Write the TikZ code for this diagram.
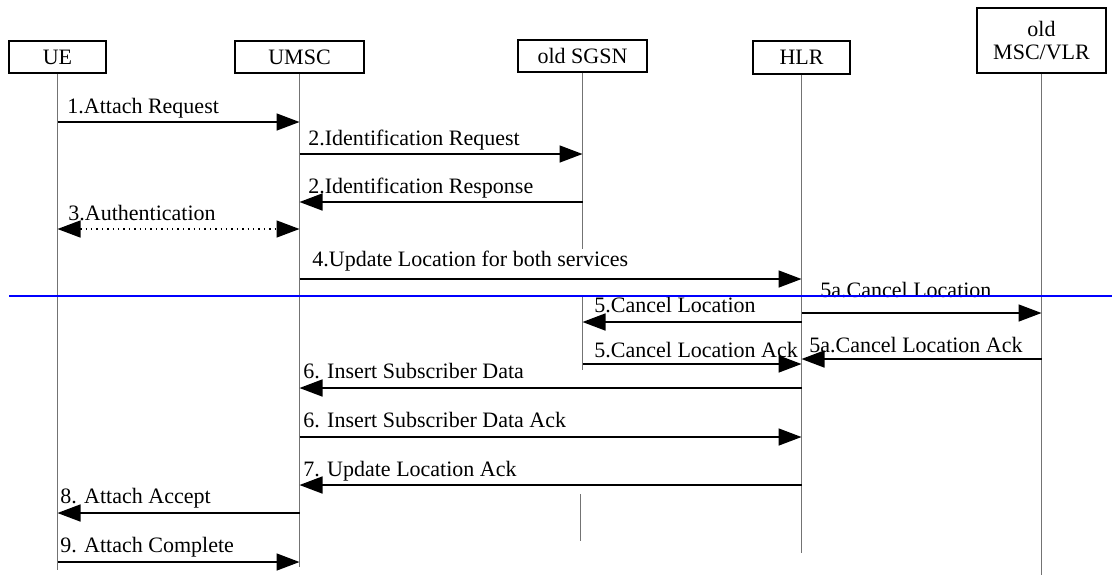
\documentclass[tikz,border=0pt]{standalone}
\usepackage{fontspec}
\setmainfont{Liberation Serif}
\usepackage{tikz}
\usetikzlibrary{arrows.meta,positioning}
\tikzset{
  entity/.style={draw, fill=white, line width=0.7pt, minimum height=16pt, inner sep=1pt, align=center, font=\fontsize{11}{11.5}\selectfont},
  lifeline/.style={draw=black!55, line width=0.5pt},
  msg/.style={line width=0.8pt, -{Triangle[length=11.5pt,width=8.5pt]}},
  bimsg/.style={line width=0.7pt, dotted, {Triangle[length=11.5pt,width=8.5pt]}-{Triangle[length=11.5pt,width=8.5pt]}},
  lbl/.style={anchor=base west, inner sep=0pt, font=\fontsize{11}{12}\selectfont},
  sepline/.style={draw=blue, line width=0.8pt}
}
\begin{document}
\begin{tikzpicture}[x=0.5pt,y=-0.5pt]
  \useasboundingbox (0,0) rectangle (1112,575);
  % entities
  \node[entity, minimum width=48.5pt] (ue) at (57.5,57) {UE};
  \node[entity, minimum width=64.5pt] (umsc) at (299.5,57) {UMSC};
  \node[entity, minimum width=64.5pt] (sgsn) at (582.5,56) {old SGSN};
  \node[entity, minimum width=48.5pt, minimum height=16.5pt] (hlr) at (801.5,57.5) {HLR};
  \node[entity, minimum width=64.5pt, minimum height=32.5pt] (vlr) at (1041.5,40.5) {old\\MSC/VLR};
  % lifelines
  \coordinate (ueEnd) at (57.5,570);
  \coordinate (umscEnd) at (299.5,567);
  \coordinate (hlrEnd) at (801.5,553);
  \coordinate (vlrEnd) at (1041.5,575);
  \coordinate (sgsnA) at (582.5,249);
  \coordinate (sgsnB) at (582.5,297);
  \coordinate (sgsnC) at (582.5,370);
  \coordinate (sgsnD) at (580,494);
  \coordinate (sgsnE) at (580,541);
  \draw[lifeline] (ue) -- (ueEnd);
  \draw[lifeline] (umsc) -- (umscEnd);
  \draw[lifeline] (hlr) -- (hlrEnd);
  \draw[lifeline] (vlr) -- (vlrEnd);
  \draw[lifeline] (sgsn) -- (sgsnA);
  \draw[lifeline] (sgsnB) -- (sgsnC);
  \draw[lifeline] (sgsnD) -- (sgsnE);
  % message rows
  \foreach \n/\y in {1/122,2/154,3/202,4/229,5/279,6/313,7/322,8/359,9/364,10/388,11/437,12/485,13/513,14/562}
    \coordinate (r\n) at (0,\y);
  % messages
  \draw[msg] (ue |- r1) -- (umsc |- r1);
  \draw[msg] (umsc |- r2) -- (sgsn |- r2);
  \draw[msg] (sgsn |- r3) -- (umsc |- r3);
  \draw[bimsg] (ue |- r4) -- (umsc |- r4);
  \draw[msg] (umsc |- r5) -- (hlr |- r5);
  \draw[msg] (hlr |- r6) -- (vlr |- r6);
  \draw[msg] (hlr |- r7) -- (sgsn |- r7);
  \draw[msg] (vlr |- r8) -- (hlr |- r8);
  \draw[msg] (sgsn |- r9) -- (hlr |- r9);
  \draw[msg] (hlr |- r10) -- (umsc |- r10);
  \draw[msg] (umsc |- r11) -- (hlr |- r11);
  \draw[msg] (hlr |- r12) -- (umsc |- r12);
  \draw[msg] (umsc |- r13) -- (ue |- r13);
  \draw[msg] (ue |- r14) -- (umsc |- r14);
  % labels
  \node[lbl] (l1) at (67,113) {1.Attach Request};
  \node[lbl] (l2) at (308,145) {2.Identification Request};
  \node[lbl] (l3) at (308,193) {2.Identification Response};
  \node[lbl] (l4) at (68,220) {3.Authentication};
  \node[lbl] (l5) at (312,266) {4.Update Location for both services};
  \node[lbl] (l6) at (820,297) {5a.Cancel Location};
  \node[lbl] (l7) at (594,312) {5.Cancel Location};
  \node[lbl] (l8) at (809,352) {5a.Cancel Location Ack};
  \node[lbl] (l9) at (594,357) {5.Cancel Location Ack};
  \node[lbl] (l10) at (303,378) {6. Insert Subscriber Data};
  \node[lbl] (l11) at (303,427) {6. Insert Subscriber Data Ack};
  \node[lbl] (l12) at (303,476) {7. Update Location Ack};
  \node[lbl] (l13) at (60,503) {8. Attach Accept};
  \node[lbl] (l14) at (60,552) {9. Attach Complete};
  % separator
  \coordinate (sepL) at (9,296);
  \coordinate (sepR) at (1112,296);
  \draw[sepline] (sepL) -- (sepR);
\end{tikzpicture}
\end{document}
